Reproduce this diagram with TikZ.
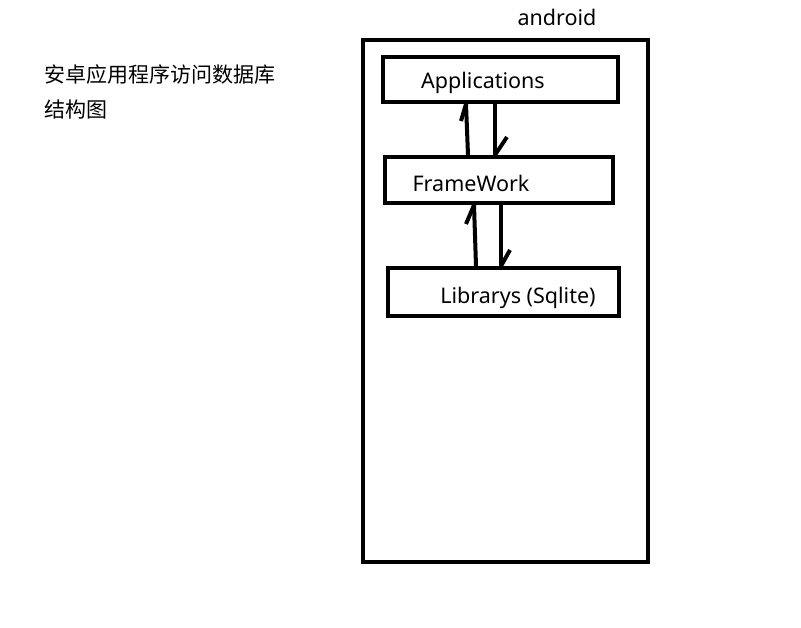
\documentclass[tikz,border=0pt]{standalone}
\usepackage{fontspec}
\setmainfont{Noto Sans}
\newfontfamily\cjk{Noto Sans CJK SC}
\begin{document}
\begin{tikzpicture}[x=1pt,y=-1pt,
  frame/.style={draw=black,line width=4pt,minimum width=#1,inner sep=0pt},
  lbl/.style={font=\fontsize{21.5}{24}\selectfont,inner sep=0pt,anchor=base},
  conn/.style={line width=4pt,line cap=butt}]
\useasboundingbox[fill=white] (0,0) rectangle (801,627);
\node[frame=285pt,minimum height=522pt] (outer) at (505.5,301) {};
\node[frame=235pt,minimum height=45pt] (app) at (500.5,79.5) {};
\node[frame=228pt,minimum height=46pt] (fw) at (499,180) {};
\node[frame=231pt,minimum height=48pt] (lib) at (503.5,292) {};
\node[lbl] (tand) at (557,25) {android};
\node[lbl] (tapp) at (483,88) {Applications};
\node[lbl] (tfw) at (471,191) {FrameWork};
\node[lbl] (tlib) at (518,303) {Librarys (Sqlite)};
\node[font=\cjk\fontsize{21}{30}\selectfont,anchor=north west,align=left,inner sep=0pt] (title) at (44,64) {安卓应用程序访问数据库\\[5pt]结构图};
% up arrow FrameWork -> Applications
\coordinate (a1) at (fw.north west -| 468,0);
\coordinate (a1t) at (app.south west -| 466,0);
\coordinate (a1k) at (461,121);
\draw[conn] (a1) -- (a1t);
\draw[conn] (a1t) -- (a1k);
% down arrow Applications -> FrameWork
\coordinate (b1) at (app.south west -| 495,0);
\coordinate (b1t) at (fw.north west -| 495,0);
\coordinate (b1k) at (507,137);
\draw[conn] (b1) -- (b1t);
\draw[conn] (b1t) -- (b1k);
% up arrow Librarys -> FrameWork
\coordinate (a2) at (lib.north west -| 476,0);
\coordinate (a2t) at (fw.south west -| 474,0);
\coordinate (a2k) at (466,224);
\draw[conn] (a2) -- (a2t);
\draw[conn] (a2t) -- (a2k);
% down arrow FrameWork -> Librarys
\coordinate (b2) at (fw.south west -| 501,0);
\coordinate (b2t) at (lib.north west -| 501,0);
\coordinate (b2k) at (510,250);
\draw[conn] (b2) -- (b2t);
\draw[conn] (b2t) -- (b2k);
\end{tikzpicture}
\end{document}
